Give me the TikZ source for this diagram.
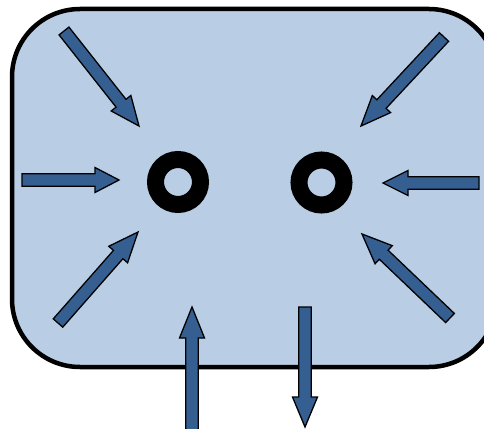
\documentclass[tikz,border=0pt]{standalone}
\usetikzlibrary{calc}
\definecolor{panel}{RGB}{185,205,228}
\definecolor{arrowblue}{RGB}{54,95,145}
\tikzset{
  panelbox/.style={draw=black, line width=4.5pt, fill=panel, rounded corners=68pt},
  ring/.style={draw=black, line width=17pt},
  blockarrow/.style={draw=black, line width=1.3pt, fill=arrowblue, line join=miter},
}
% #1 tail coordinate, #2 tip coordinate, #3 head length
\newcommand\blockarr[3]{%
  \coordinate (#1-hb) at ($(#2)!#3!(#1)$);
  \draw[blockarrow] ($(#1)!6.3pt!90:(#2)$) -- ($(#1-hb)!6.3pt!90:(#2)$) -- ($(#1-hb)!12.5pt!90:(#2)$) -- (#2)
    -- ($(#1-hb)!12.5pt!-90:(#2)$) -- ($(#1-hb)!6.3pt!-90:(#2)$) -- ($(#1)!6.3pt!-90:(#2)$) -- cycle;
}
\begin{document}
\begin{tikzpicture}[x=1pt,y=-1pt]
  \useasboundingbox (0,0) rectangle (484,428);
  \clip (0,0) rectangle (484,428);
  \draw[panelbox] (12,9) rectangle (497,367);
  % rings
  \coordinate (ringL) at (178,182);
  \coordinate (ringR) at (321.5,182.5);
  \draw[ring] (ringL) circle[radius=22.5];
  \draw[ring] (ringR) circle[radius=22.5];
  % arrow ends
  \coordinate (a1t) at (64,31);   \coordinate (a1h) at (139,126);
  \coordinate (a2t) at (22,180);  \coordinate (a2h) at (119,180);
  \coordinate (a3t) at (58,323);  \coordinate (a3h) at (138,232);
  \coordinate (a4t) at (192,436); \coordinate (a4h) at (192,307);
  \coordinate (a5t) at (305,307); \coordinate (a5h) at (305,427);
  \coordinate (a6t) at (450,318); \coordinate (a6h) at (362,234);
  \coordinate (a7t) at (479,183); \coordinate (a7h) at (383,183);
  \coordinate (a8t) at (444,37);  \coordinate (a8h) at (361,126);
  \blockarr{a1t}{a1h}{29pt}
  \blockarr{a2t}{a2h}{24pt}
  \blockarr{a3t}{a3h}{30pt}
  \blockarr{a4t}{a4h}{31pt}
  \blockarr{a5t}{a5h}{30pt}
  \blockarr{a6t}{a6h}{30pt}
  \blockarr{a7t}{a7h}{25pt}
  \blockarr{a8t}{a8h}{30pt}
\end{tikzpicture}
\end{document}
